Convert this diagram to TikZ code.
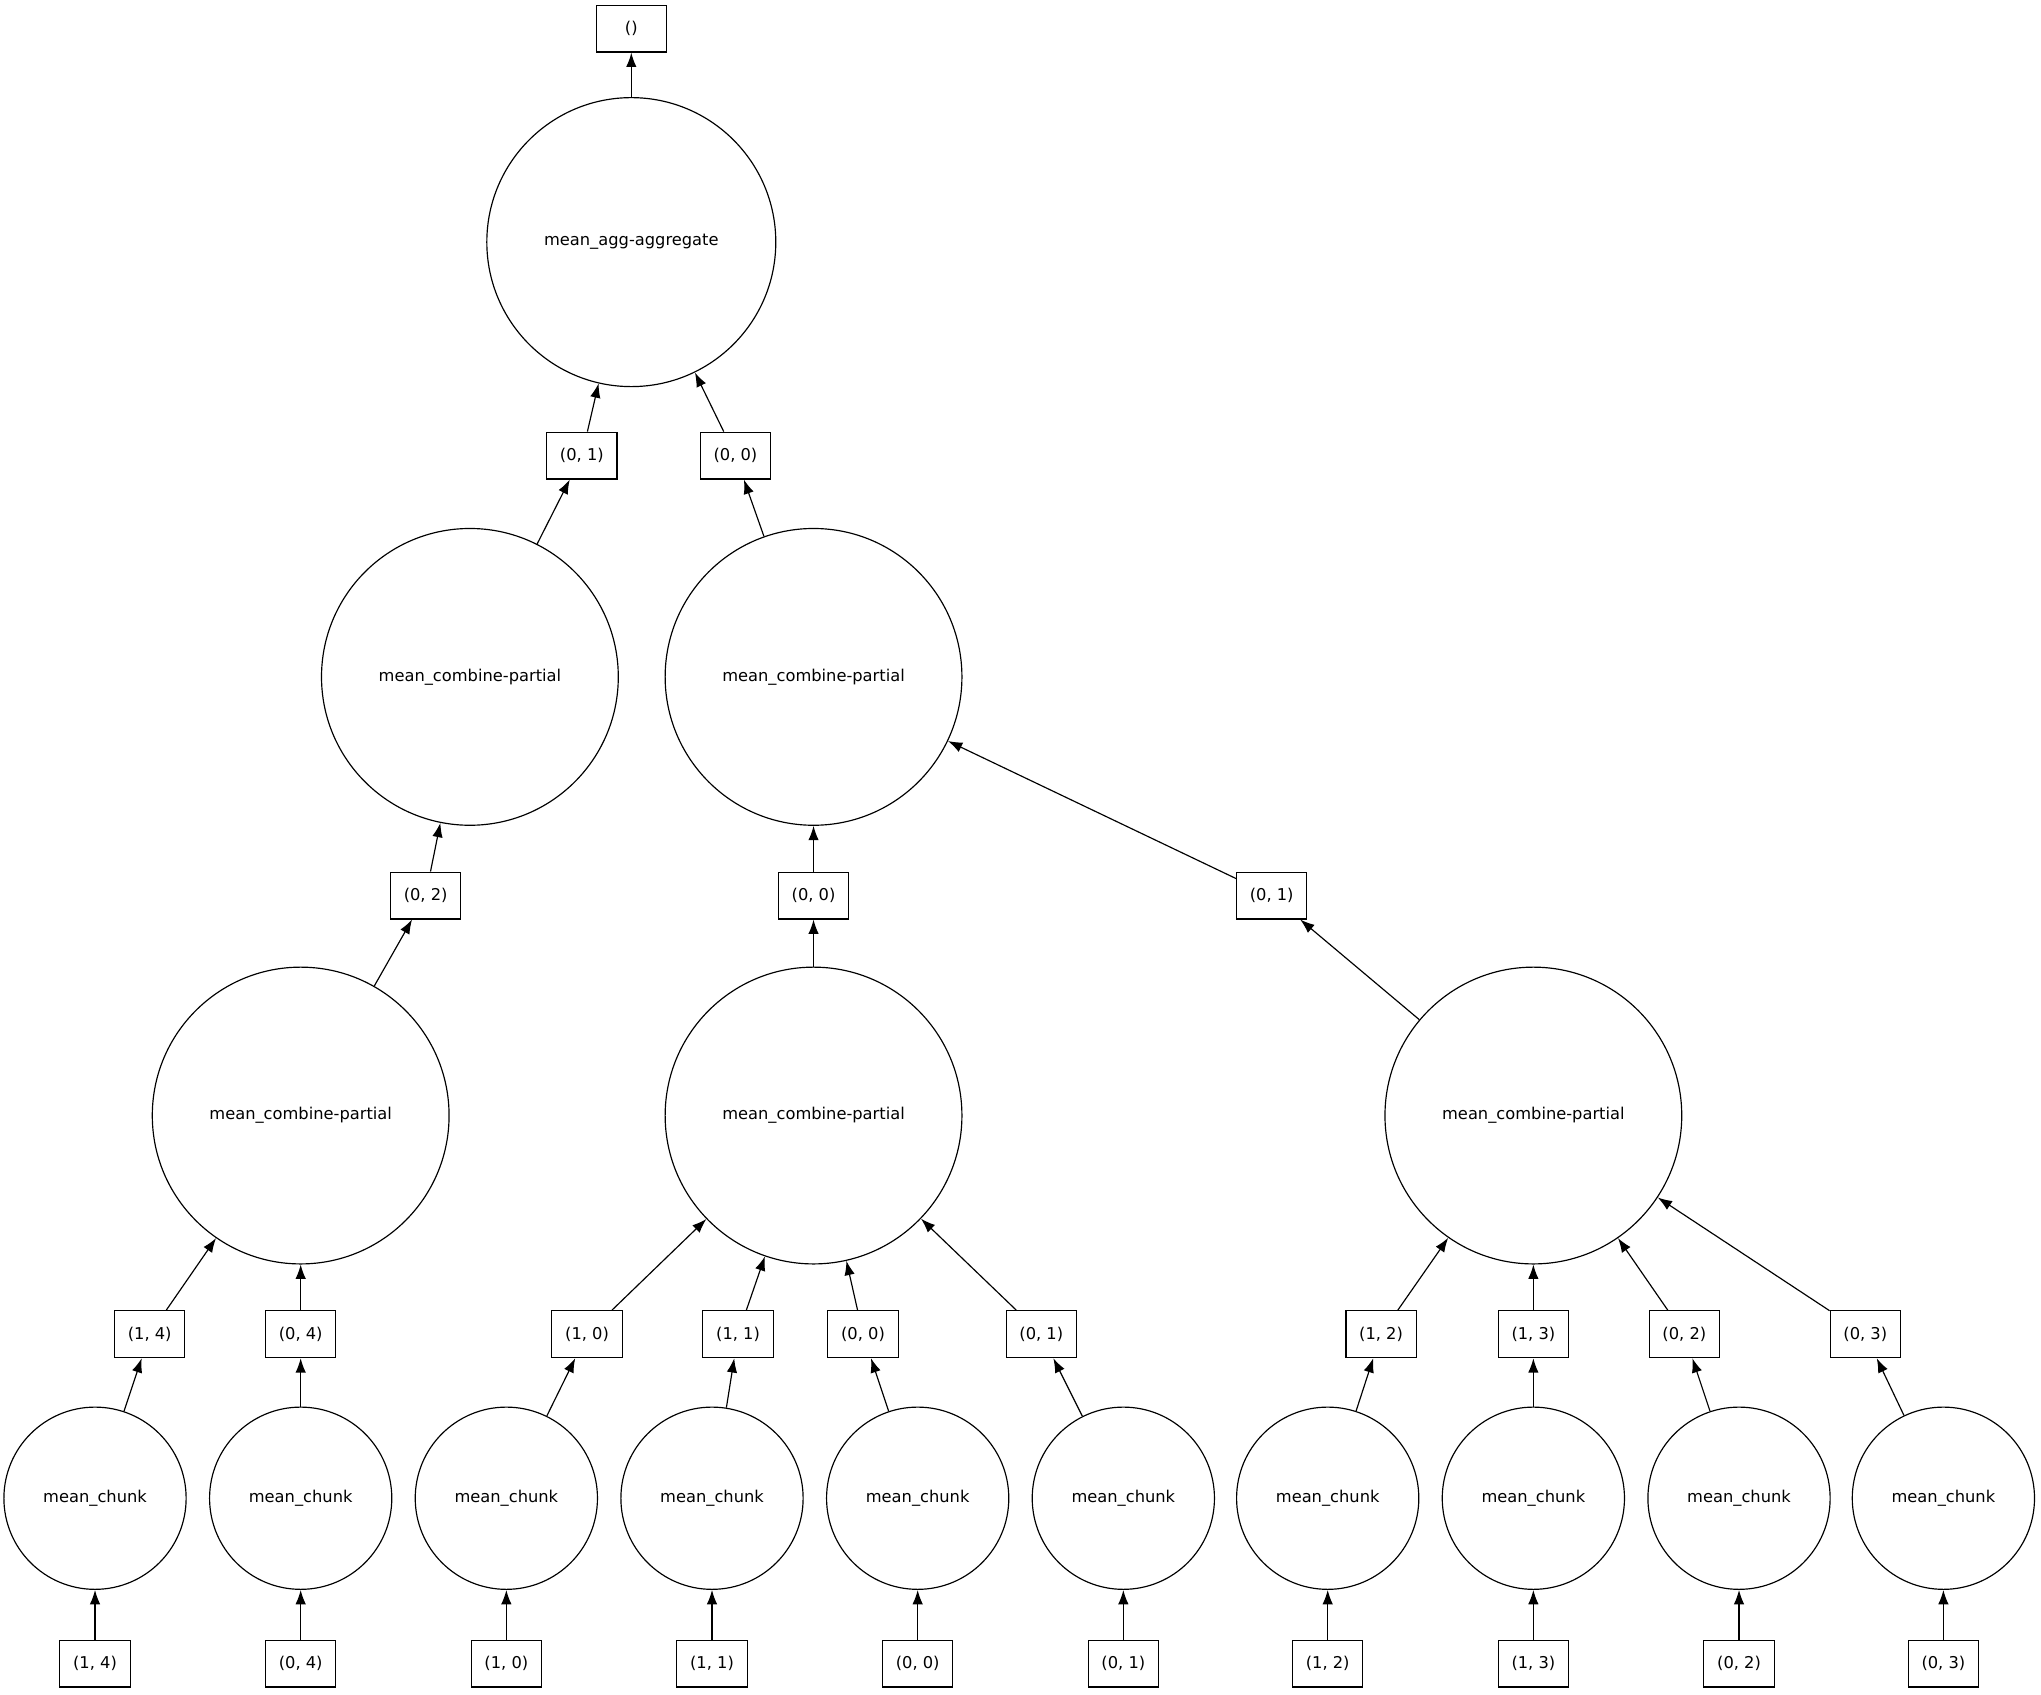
\documentclass[tikz,border=0pt]{standalone}
\usepackage{fontspec}
\setmainfont{DejaVu Sans}
\usetikzlibrary{arrows.meta}
\begin{document}
\begin{tikzpicture}[x=1pt,y=-1pt,
  box/.style={draw,line width=0.9pt,minimum width=54pt,minimum height=36pt,inner sep=2pt,font=\fontsize{12.5}{14}\selectfont},
  big/.style={draw,circle,line width=0.9pt,minimum size=228pt,inner sep=0pt,font=\fontsize{12.5}{14}\selectfont},
  small/.style={draw,circle,line width=0.9pt,minimum size=140pt,inner sep=0pt,font=\fontsize{12.5}{14}\selectfont},
  e/.style={-{Latex[length=11pt,width=8pt]},line width=0.9pt}]
\useasboundingbox (0,0) rectangle (1568,1302);
\node[box] (top) at (485,22) {()};
\node[big,minimum size=222pt] (agg) at (485,186) {mean\_agg-aggregate};
\node[box] (a01) at (447,350) {(0, 1)};
\node[box] (a00) at (565,350) {(0, 0)};
\node[big] (cL) at (361,520) {mean\_combine-partial};
\node[big] (cR) at (625,520) {mean\_combine-partial};
\node[box] (b02) at (327,688) {(0, 2)};
\node[box] (b00) at (625,688) {(0, 0)};
\node[box] (b01) at (977,688) {(0, 1)};
\node[big] (d1) at (231,857) {mean\_combine-partial};
\node[big] (d2) at (625,857) {mean\_combine-partial};
\node[big] (d3) at (1178,857) {mean\_combine-partial};
\draw[e] (agg) -- (top);
\draw[e] (a01) -- (agg);
\draw[e] (a00) -- (agg);
\draw[e] (cL) -- (a01);
\draw[e] (cR) -- (a00);
\draw[e] (b02) -- (cL);
\draw[e] (b00) -- (cR);
\draw[e] (b01) -- (cR);
\draw[e] (d1) -- (b02);
\draw[e] (d2) -- (b00);
\draw[e] (d3) -- (b01);
\foreach \i/\bx/\cx/\lab/\tgt in {1/115/73/{(1, 4)}/d1, 2/231/231/{(0, 4)}/d1, 3/451/389/{(1, 0)}/d2, 4/567/547/{(1, 1)}/d2, 5/663/705/{(0, 0)}/d2, 6/800/863/{(0, 1)}/d2, 7/1061/1020/{(1, 2)}/d3, 8/1178/1178/{(1, 3)}/d3, 9/1294/1336/{(0, 2)}/d3, 10/1433/1493/{(0, 3)}/d3}{
  \node[box] (m\i) at (\bx,1025) {\lab};
  \node[small] (k\i) at (\cx,1151) {mean\_chunk};
  \node[box] (s\i) at (\cx,1278) {\lab};
  \draw[e] (s\i) -- (k\i);
  \draw[e] (k\i) -- (m\i);
  \draw[e] (m\i) -- (\tgt);
}
\end{tikzpicture}
\end{document}
